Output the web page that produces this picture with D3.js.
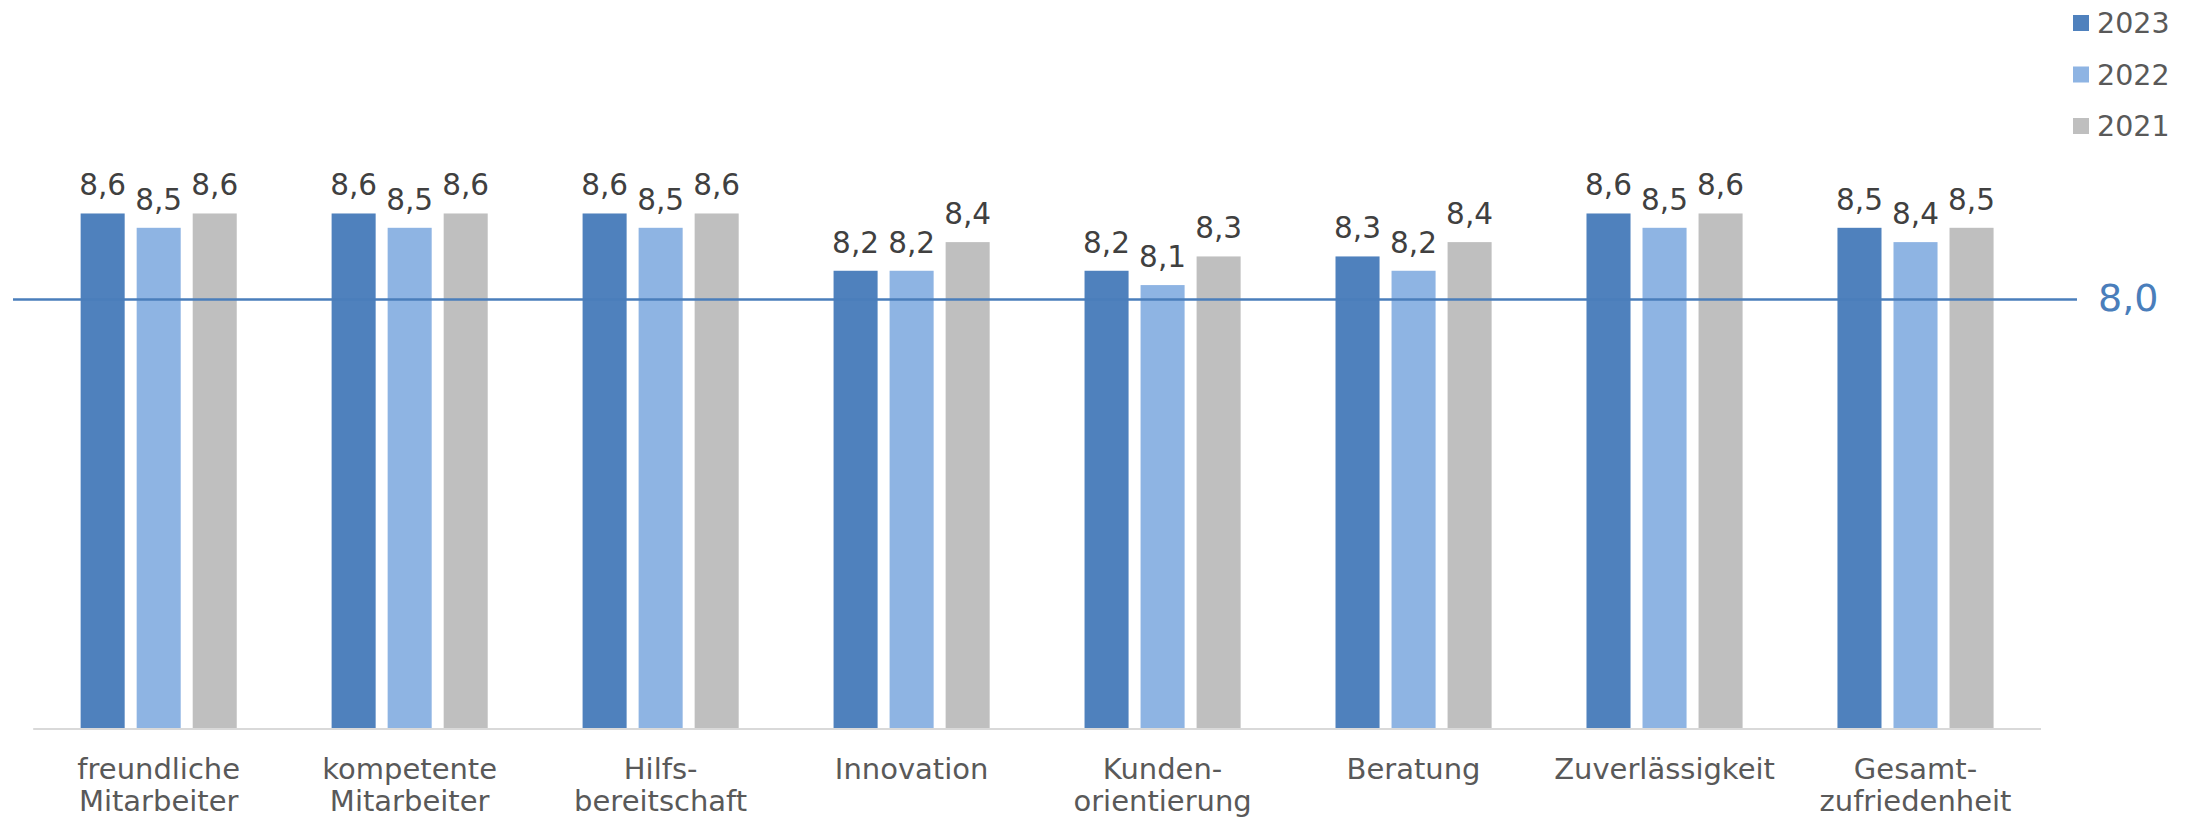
<!DOCTYPE html>
<html>
<head>
<meta charset="utf-8">
<script src="https://cdn.jsdelivr.net/npm/d3@7"></script>
<style>
  body { margin: 0; background: #fff; }
  svg text { font-family: 'DejaVu Sans', Verdana, sans-serif; }
</style>
</head>
<body>
<div id="graph-container"></div>
<script>
// chart data
const categories = [
  ['freundliche', 'Mitarbeiter'],
  ['kompetente', 'Mitarbeiter'],
  ['Hilfs-', 'bereitschaft'],
  ['Innovation'],
  ['Kunden-', 'orientierung'],
  ['Beratung'],
  ['Zuverlässigkeit'],
  ['Gesamt-', 'zufriedenheit']
];
const seriesNames = ['2023', '2022', '2021'];
const values2023 = [8.6, 8.6, 8.6, 8.2, 8.2, 8.3, 8.6, 8.5];
const values2022 = [8.5, 8.5, 8.5, 8.2, 8.1, 8.2, 8.5, 8.4];
const values2021 = [8.6, 8.6, 8.6, 8.4, 8.3, 8.4, 8.6, 8.5];
const referenceValue = 8.0;
const yDomain = [5, 9];

const colors = ['#4f81bd', '#8eb4e3', '#bfbfbf'];
const seriesValues = [values2023, values2022, values2021];
const fmt = v => d3.format('.1f')(v).replace('.', ',');

const width = 2192, height = 820;
const plot = { left: 33.2, right: 2041, top: 156.2, bottom: 729 };

const svg = d3.select('#graph-container')
  .append('svg')
  .attr('width', width)
  .attr('height', height);

const catKeys = categories.map(c => c.join(' '));

const x0 = d3.scaleBand()
  .domain(catKeys)
  .range([plot.left, plot.right])
  .paddingInner(0.378)
  .paddingOuter(0.189);

const x1 = d3.scaleBand()
  .domain(seriesNames)
  .range([0, x0.bandwidth()])
  .paddingInner(0.214)
  .paddingOuter(0);

const y = d3.scaleLinear()
  .domain(yDomain)
  .range([plot.bottom, plot.top]);

// bars
const groups = svg.selectAll('g.cat')
  .data(catKeys)
  .enter()
  .append('g')
  .attr('class', 'cat')
  .attr('transform', d => `translate(${x0(d)},0)`);

groups.each(function(key, ci) {
  const g = d3.select(this);
  seriesNames.forEach((s, si) => {
    const v = seriesValues[si][ci];
    g.append('rect')
      .attr('x', x1(s))
      .attr('y', y(v))
      .attr('width', x1.bandwidth())
      .attr('height', y(yDomain[0]) - y(v))
      .attr('fill', colors[si]);
    g.append('text')
      .attr('x', x1(s) + x1.bandwidth() / 2)
      .attr('y', y(v) - 18)
      .attr('text-anchor', 'middle')
      .attr('font-size', 29.5)
      .attr('fill', '#404040')
      .text(fmt(v));
  });
});

// x-axis line
svg.append('line')
  .attr('x1', plot.left)
  .attr('x2', plot.right)
  .attr('y1', y(yDomain[0]))
  .attr('y2', y(yDomain[0]))
  .attr('stroke', '#d9d9d9')
  .attr('stroke-width', 2);

// category labels
groups.each(function(key, ci) {
  const t = d3.select(this).append('text')
    .attr('text-anchor', 'middle')
    .attr('font-size', 29)
    .attr('fill', '#595959');
  categories[ci].forEach((line, li) => {
    t.append('tspan')
      .attr('x', x0.bandwidth() / 2)
      .attr('y', 779 + li * 32)
      .text(line);
  });
});

// reference line
svg.append('line')
  .attr('x1', 13)
  .attr('x2', 2077)
  .attr('y1', y(referenceValue))
  .attr('y2', y(referenceValue))
  .attr('stroke', '#4a7ebb')
  .attr('stroke-width', 2.5);

svg.append('text')
  .attr('x', 2098)
  .attr('y', y(referenceValue) + 12)
  .attr('font-size', 38)
  .attr('fill', '#4a7ebb')
  .text(fmt(referenceValue));

// legend
const legend = svg.selectAll('g.legend')
  .data(seriesNames)
  .enter()
  .append('g')
  .attr('class', 'legend')
  .attr('transform', (d, i) => `translate(2073,${15 + i * 51.5})`);

legend.append('rect')
  .attr('width', 16)
  .attr('height', 16)
  .attr('fill', (d, i) => colors[i]);

legend.append('text')
  .attr('x', 24)
  .attr('y', 18)
  .attr('font-size', 28.5)
  .attr('fill', '#595959')
  .text(d => d);
</script>
</body>
</html>
